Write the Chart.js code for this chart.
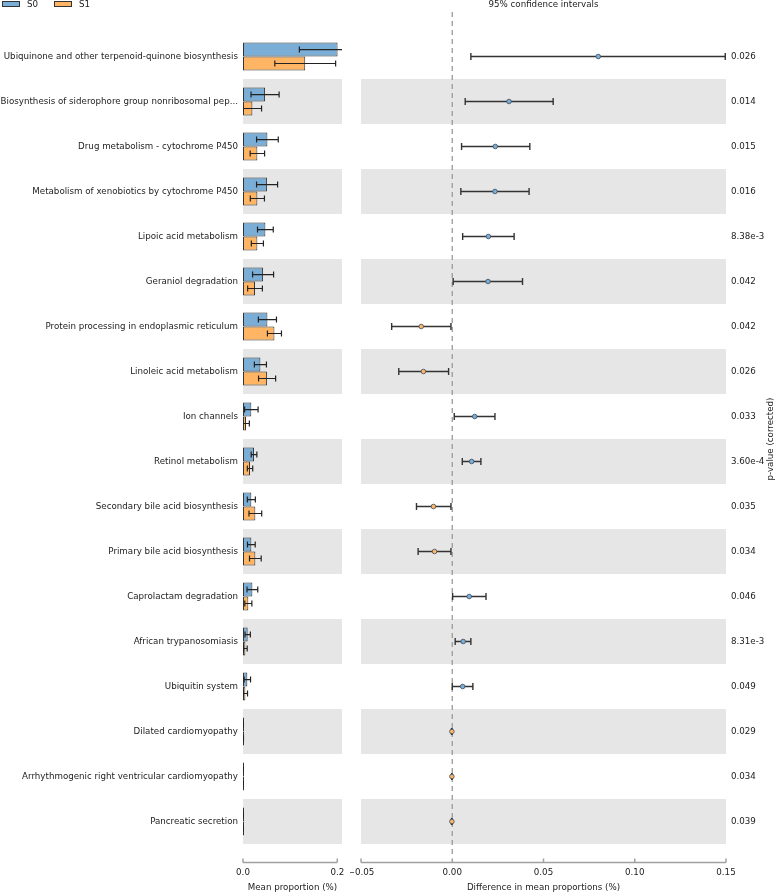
<!DOCTYPE html>
<html><head><meta charset="utf-8">
<script src="https://cdn.jsdelivr.net/npm/chart.js@4.4.1/dist/chart.umd.min.js"></script>
<style>
html,body{margin:0;padding:0;background:#fff;}
#wrap{position:relative;width:777px;height:893px;overflow:hidden;font-family:'DejaVu Sans',sans-serif;}
#c1{position:absolute;left:0;top:0;width:350px;height:893px;}
#c2{position:absolute;left:350px;top:0;width:427px;height:893px;}
.box{position:absolute;top:1px;width:18px;height:6px;box-sizing:border-box;border:1px solid #333;}
.lt{position:absolute;top:0;font-size:8.7px;line-height:9px;color:#222;}
</style></head><body>
<div id="wrap">
<canvas id="c1" width="350" height="893"></canvas>
<canvas id="c2" width="427" height="893"></canvas>
<div id="legend"></div>
</div>
<script>
const categories = [
 'Ubiquinone and other terpenoid-quinone biosynthesis',
 'Biosynthesis of siderophore group nonribosomal pep...',
 'Drug metabolism - cytochrome P450',
 'Metabolism of xenobiotics by cytochrome P450',
 'Lipoic acid metabolism',
 'Geraniol degradation',
 'Protein processing in endoplasmic reticulum',
 'Linoleic acid metabolism',
 'Ion channels',
 'Retinol metabolism',
 'Secondary bile acid biosynthesis',
 'Primary bile acid biosynthesis',
 'Caprolactam degradation',
 'African trypanosomiasis',
 'Ubiquitin system',
 'Dilated cardiomyopathy',
 'Arrhythmogenic right ventricular cardiomyopathy',
 'Pancreatic secretion'
];
const groups = ['S0', 'S1'];
const s0Mean = [0.2006,0.0468,0.0518,0.0511,0.0475,0.0426,0.0518,0.0369,0.0177,0.0234,0.0177,0.0177,0.0199,0.0099,0.0092,0.0004,0.0003,0.0003];
const s0Std  = [0.081,0.0298,0.023,0.0223,0.0167,0.0223,0.0192,0.0128,0.0143,0.006,0.0085,0.0082,0.0114,0.0057,0.0068,0.0003,0.0002,0.0002];
const s1Mean = [0.132,0.0199,0.0305,0.0305,0.0305,0.0255,0.0667,0.0511,0.0064,0.0149,0.0262,0.0262,0.0113,0.0050,0.0050,0.0006,0.0005,0.0005];
const s1Std  = [0.0645,0.0195,0.0153,0.015,0.0128,0.0156,0.0149,0.0181,0.0071,0.0057,0.0135,0.0124,0.0075,0.0039,0.0046,0.0004,0.0003,0.0003];
const diffMean = [0.080,0.0311,0.0236,0.0234,0.0198,0.0196,-0.0170,-0.0158,0.0123,0.0106,-0.0103,-0.0097,0.0093,0.0060,0.0057,-0.0002,-0.0002,-0.0002];
const ciLow  = [0.0102,0.0071,0.0051,0.0047,0.0057,0.0005,-0.0332,-0.0293,0.0011,0.0055,-0.0196,-0.0187,0.0002,0.0016,0.0000,-0.0004,-0.0003,-0.0004];
const ciHigh = [0.1496,0.0553,0.0425,0.0421,0.0339,0.0385,-0.0007,-0.0020,0.0234,0.0157,-0.0007,-0.0007,0.0185,0.0102,0.0113,-0.0001,-0.0001,-0.0001];
const pValues = ['0.026','0.014','0.015','0.016','8.38e-3','0.042','0.042','0.026','0.033','3.60e-4','0.035','0.034','0.046','8.31e-3','0.049','0.029','0.034','0.039'];
const meanTicks = [0, 0.2];
const diffTicks = [-0.05, 0, 0.05, 0.10, 0.15];

const BLUE = 'rgb(122,174,214)';
const ORANGE = 'rgb(255,181,100)';
const colors = [BLUE, ORANGE];
const FS = 8.7;

Chart.defaults.font.family = "'DejaVu Sans', sans-serif";
Chart.defaults.font.size = FS;
Chart.defaults.color = '#222';
Chart.defaults.animation = false;

// HTML legend
const lg = document.getElementById('legend');
const lgX = [2, 54];
groups.forEach((g, i) => {
  const b = document.createElement('div'); b.className = 'box';
  b.style.left = lgX[i] + 'px'; b.style.background = colors[i]; lg.appendChild(b);
  const t = document.createElement('div'); t.className = 'lt';
  t.style.left = (lgX[i] + 25) + 'px'; t.textContent = g; lg.appendChild(t);
});

const noPad = s => { s.paddingLeft = 0; s.paddingRight = 0; };

const bandPlugin = {
  id: 'bands',
  beforeDatasetsDraw(chart) {
    const {ctx, chartArea: a, scales: {y}} = chart;
    const step = y.getPixelForValue(1) - y.getPixelForValue(0);
    ctx.save(); ctx.fillStyle = '#e6e6e6';
    for (let i = 1; i < categories.length; i += 2) {
      const c = y.getPixelForValue(i);
      ctx.fillRect(a.left, c - step / 2, a.right - a.left, step);
    }
    ctx.restore();
  }
};
const spinePlugin = {
  id: 'spine',
  afterDraw(chart) {
    const {ctx, chartArea: a, scales: {x}} = chart;
    const tv = x.ticks.map(t => t.value);
    const yy = a.bottom + 18.5;
    ctx.save(); ctx.strokeStyle = '#a0a0a0'; ctx.lineWidth = 1.5;
    ctx.beginPath();
    ctx.moveTo(x.getPixelForValue(tv[0]), yy);
    ctx.lineTo(x.getPixelForValue(tv[tv.length - 1]), yy);
    tv.forEach(v => { const px = x.getPixelForValue(v); ctx.moveTo(px, yy); ctx.lineTo(px, yy - 4); });
    ctx.stroke(); ctx.restore();
  }
};
const barErrPlugin = {
  id: 'barErr',
  afterDatasetsDraw(chart) {
    const {ctx, chartArea: a, scales: {x}} = chart;
    const means = [s0Mean, s1Mean], stds = [s0Std, s1Std];
    ctx.save();
    ctx.beginPath(); ctx.rect(a.left, a.top, a.right - a.left, a.bottom - a.top); ctx.clip();
    ctx.strokeStyle = '#222'; ctx.lineWidth = 1.2;
    for (let d = 0; d < 2; d++) {
      chart.getDatasetMeta(d).data.forEach((el, i) => {
        const x0 = x.getPixelForValue(means[d][i] - stds[d][i]);
        const x1 = x.getPixelForValue(means[d][i] + stds[d][i]);
        const yc = el.y;
        ctx.beginPath();
        ctx.moveTo(x0, yc); ctx.lineTo(x1, yc);
        ctx.moveTo(x0, yc - 3); ctx.lineTo(x0, yc + 3);
        ctx.moveTo(x1, yc - 3); ctx.lineTo(x1, yc + 3);
        ctx.stroke();
      });
    }
    ctx.restore();
  }
};
const ciPlugin = {
  id: 'ci',
  beforeDatasetsDraw(chart) {
    const {ctx, chartArea: a, scales: {x, y}} = chart;
    ctx.save();
    const zx = x.getPixelForValue(0);
    ctx.strokeStyle = '#999'; ctx.lineWidth = 1.3; ctx.setLineDash([5, 4]);
    ctx.beginPath(); ctx.moveTo(zx, a.top - 22); ctx.lineTo(zx, a.bottom + 13); ctx.stroke();
    ctx.setLineDash([]);
    ctx.strokeStyle = '#333'; ctx.lineWidth = 1.4;
    categories.forEach((c, i) => {
      const yc = y.getPixelForValue(i);
      const x0 = x.getPixelForValue(ciLow[i]), x1 = x.getPixelForValue(ciHigh[i]);
      ctx.beginPath();
      ctx.moveTo(x0, yc); ctx.lineTo(x1, yc);
      ctx.moveTo(x0, yc - 3.5); ctx.lineTo(x0, yc + 3.5);
      ctx.moveTo(x1, yc - 3.5); ctx.lineTo(x1, yc + 3.5);
      ctx.stroke();
    });
    ctx.restore();
  },
  afterDraw(chart) {
    const {ctx, chartArea: a} = chart;
    ctx.save();
    ctx.translate(421, (a.top + a.bottom) / 2);
    ctx.rotate(-Math.PI / 2);
    ctx.font = FS + "px 'DejaVu Sans', sans-serif";
    ctx.fillStyle = '#222'; ctx.textAlign = 'center'; ctx.textBaseline = 'middle';
    ctx.fillText('p-value (corrected)', 0, 0);
    ctx.restore();
  }
};

new Chart(document.getElementById('c1'), {
  type: 'bar',
  data: {
    labels: categories,
    datasets: [
      {label: groups[0], data: s0Mean, backgroundColor: BLUE, borderColor: '#333', borderWidth: 1, borderSkipped: false},
      {label: groups[1], data: s1Mean, backgroundColor: ORANGE, borderColor: '#333', borderWidth: 1, borderSkipped: false}
    ]
  },
  options: {
    responsive: false,
    indexAxis: 'y',
    categoryPercentage: 0.62,
    barPercentage: 1.0,
    minBarLength: 1,
    layout: {padding: {top: 34, right: 8, bottom: 0, left: 0}},
    plugins: {legend: {display: false}, tooltip: {enabled: false}},
    scales: {
      x: {
        type: 'linear', min: 0, max: 0.21,
        afterBuildTicks: s => { s.ticks = meanTicks.map(v => ({value: v})); },
        grid: {display: false, drawTicks: false}, border: {display: false},
        ticks: {padding: 24, callback: v => Number(v).toFixed(1)},
        title: {display: true, text: 'Mean proportion (%)', padding: {top: 0, bottom: 0}},
        afterFit: s => { s.height = 49; noPad(s); }
      },
      y: {
        type: 'category', offset: true,
        grid: {display: false, drawTicks: false}, border: {display: false},
        ticks: {autoSkip: false, padding: 5},
        afterFit: s => { s.width = 243; s.paddingTop = 0; s.paddingBottom = 0; }
      }
    }
  },
  plugins: [bandPlugin, barErrPlugin, spinePlugin]
});

new Chart(document.getElementById('c2'), {
  type: 'scatter',
  data: {
    datasets: [{
      label: 'difference',
      data: diffMean.map((v, i) => ({x: v, y: categories[i]})),
      pointRadius: 2.3,
      pointBackgroundColor: diffMean.map(v => v >= 0 ? BLUE : ORANGE),
      pointBorderColor: '#3a4a5a',
      pointBorderWidth: 0.8
    }]
  },
  options: {
    responsive: false,
    layout: {padding: {top: 0, right: 0, bottom: 0, left: 11}},
    plugins: {legend: {display: false}, tooltip: {enabled: false}},
    scales: {
      x: {
        type: 'linear', position: 'bottom', min: -0.05, max: 0.15,
        afterBuildTicks: s => { s.ticks = diffTicks.map(v => ({value: v})); },
        grid: {display: false, drawTicks: false}, border: {display: false},
        ticks: {padding: 24, callback: v => (v < -1e-9 ? '\u2212' : '') + Math.abs(v).toFixed(2)},
        title: {display: true, text: 'Difference in mean proportions (%)', padding: {top: 0, bottom: 0}},
        afterFit: s => { s.height = 49; noPad(s); }
      },
      x2: {
        type: 'linear', position: 'top', min: -0.05, max: 0.15,
        grid: {display: false, drawTicks: false}, border: {display: false},
        ticks: {display: false},
        title: {display: true, text: '95% confidence intervals', padding: {top: 0, bottom: 0}, font: {lineHeight: 1}},
        afterFit: s => { s.height = 34; noPad(s); }
      },
      y: {
        type: 'category', labels: categories, offset: true, display: false
      },
      yP: {
        type: 'category', labels: pValues, offset: true, position: 'right',
        grid: {display: false, drawTicks: false}, border: {display: false},
        ticks: {autoSkip: false, padding: 5},
        afterFit: s => { s.width = 51; s.paddingTop = 0; s.paddingBottom = 0; }
      }
    }
  },
  plugins: [bandPlugin, ciPlugin, spinePlugin]
});
</script>
</body></html>
